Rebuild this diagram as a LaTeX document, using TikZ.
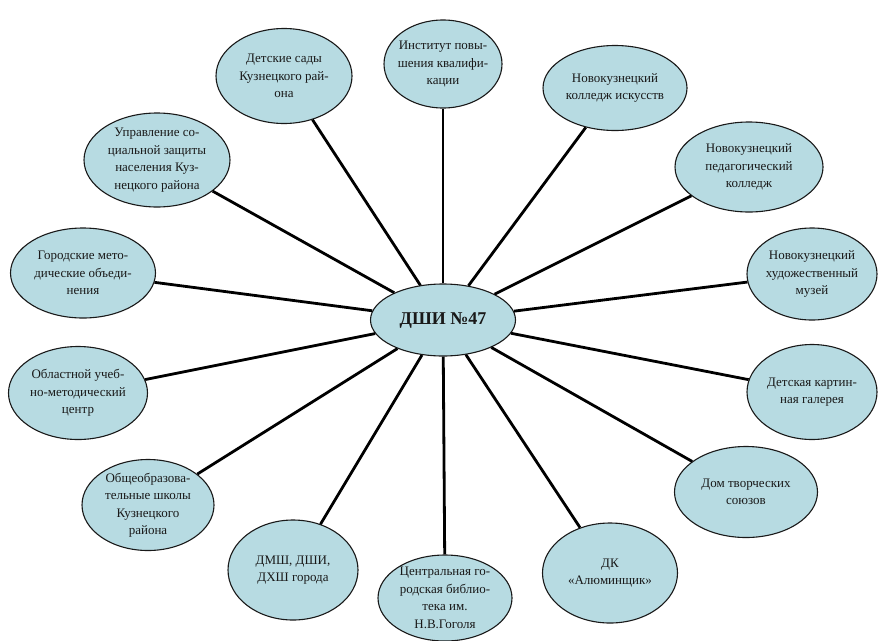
\documentclass[tikz,border=0pt]{standalone}
\usepackage{fontspec}
\setmainfont{Liberation Serif}
\newfontfamily\tnr{Liberation Serif}
\usetikzlibrary{shapes.geometric}
\definecolor{bubfill}{RGB}{183,219,226}
\begin{document}
\begin{tikzpicture}[x=1pt,y=-1pt,
  bub/.style={ellipse,draw=black!90,line width=1.1pt,fill=bubfill,inner sep=0pt},
  txt/.style={align=center,font=\tnr\fontsize{13}{17.5}\selectfont,inner sep=0pt,text=black!90},
  link/.style={line width=2.8pt,black}]
\useasboundingbox (0,0) rectangle (882,640);
\node[bub,minimum width=118pt,minimum height=88pt] (inst) at (443,64) {};
\node[bub,minimum width=136pt,minimum height=95pt] (dsad) at (284,76) {};
\node[bub,minimum width=144pt,minimum height=85pt] (nki) at (615,88) {};
\node[bub,minimum width=146pt,minimum height=94pt] (upr) at (157,160) {};
\node[bub,minimum width=148pt,minimum height=90pt] (npk) at (749,167) {};
\node[bub,minimum width=145pt,minimum height=90pt] (gmo) at (83,273) {};
\node[bub,minimum width=130pt,minimum height=92pt] (nhm) at (812,274) {};
\node[bub,minimum width=139pt,minimum height=93pt] (oumc) at (78,393) {};
\node[bub,minimum width=130pt,minimum height=95pt] (dkg) at (812,392) {};
\node[bub,minimum width=132pt,minimum height=91pt] (obsh) at (148,505) {};
\node[bub,minimum width=130pt,minimum height=100pt] (dmsh) at (293,570) {};
\node[bub,minimum width=134pt,minimum height=86pt] (cgb) at (445,598) {};
\node[bub,minimum width=135pt,minimum height=100pt] (dk) at (610,573) {};
\node[bub,minimum width=143pt,minimum height=91pt] (dts) at (746,492) {};
\node[bub,minimum width=145pt,minimum height=72pt] (hub) at (443,320) {};
\foreach \n in {inst,dsad,nki,upr,npk,gmo,nhm,oumc,dkg,obsh,dmsh,cgb,dk,dts}
  \draw[link] (hub) -- (\n);
\node[txt] at (inst) {Институт повы-\\шения квалифи-\\кации};
\node[txt] at (dsad) {Детские сады\\Кузнецкого рай-\\она};
\node[txt] at (nki) {Новокузнецкий\\колледж искусств};
\node[txt] at (upr) {Управление со-\\циальной защиты\\населения Куз-\\нецкого района};
\node[txt] at (npk) {Новокузнецкий\\педагогический\\колледж};
\node[txt] at (gmo) {Городские мето-\\дические объеди-\\нения};
\node[txt] at (nhm) {Новокузнецкий\\художественный\\музей};
\node[txt] at (oumc) {Областной учеб-\\но-методический\\центр};
\node[txt] at (dkg) {Детская картин-\\ная галерея};
\node[txt] at (obsh) {Общеобразова-\\тельные школы\\Кузнецкого\\района};
\node[txt] at (dmsh) {ДМШ, ДШИ,\\ДХШ города};
\node[txt] at (cgb) {Центральная го-\\родская библио-\\тека им.\\Н.В.Гоголя};
\node[txt] at (dk) {ДК\\«Алюминщик»};
\node[txt] at (dts) {Дом творческих\\союзов};
\node[txt,font=\tnr\bfseries\fontsize{18}{20}\selectfont] at (hub) {ДШИ №47};
\end{tikzpicture}
\end{document}
